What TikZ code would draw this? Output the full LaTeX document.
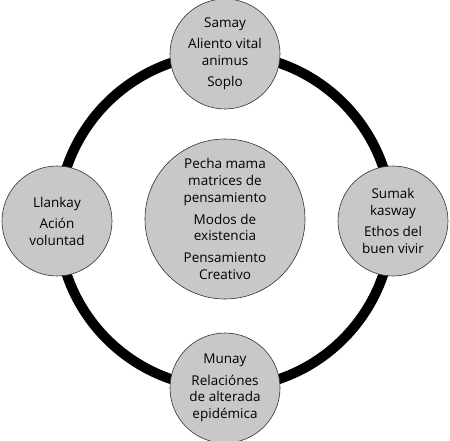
\documentclass[tikz,border=0pt]{standalone}
\usepackage{fontspec}
\setmainfont{Open Sans}
\definecolor{nodegray}{RGB}{200,200,200}

\begin{document}
\begin{tikzpicture}[x=1pt,y=1pt,
    bubble/.style={circle,draw=black!80,fill=nodegray,line width=0.6pt,align=center,
      inner sep=0pt,minimum size=110pt,font=\fontsize{13.5}{16.7}\selectfont}]
      \useasboundingbox (0,0) rectangle (450,440);
      \draw[line width=10pt] (225,219) circle (167pt);
      \node[bubble,minimum size=160pt] (pecha) at (225,221) {Pecha mama\\ matrices de\\ pensamiento\\[5pt] Modos de\\ existencia\\[5pt] Pensamiento\\ Creativo};
      \node[bubble] (samay) at (225,386) {Samay\\[4.5pt] Aliento vital\\ animus\\[4.5pt] Soplo};
      \node[bubble] (llankay) at (57,219) {Llankay\\[4.5pt] Ación\\ voluntad};
      \node[bubble] (sumak) at (393,219) {Sumak\\ kasway\\[4.5pt] Ethos del\\ buen vivir};
      \node[bubble] (munay) at (225,52) {Munay\\[4.5pt] Relaciónes\\ de alterada\\ epidémica};
\end{tikzpicture}
\end{document}
